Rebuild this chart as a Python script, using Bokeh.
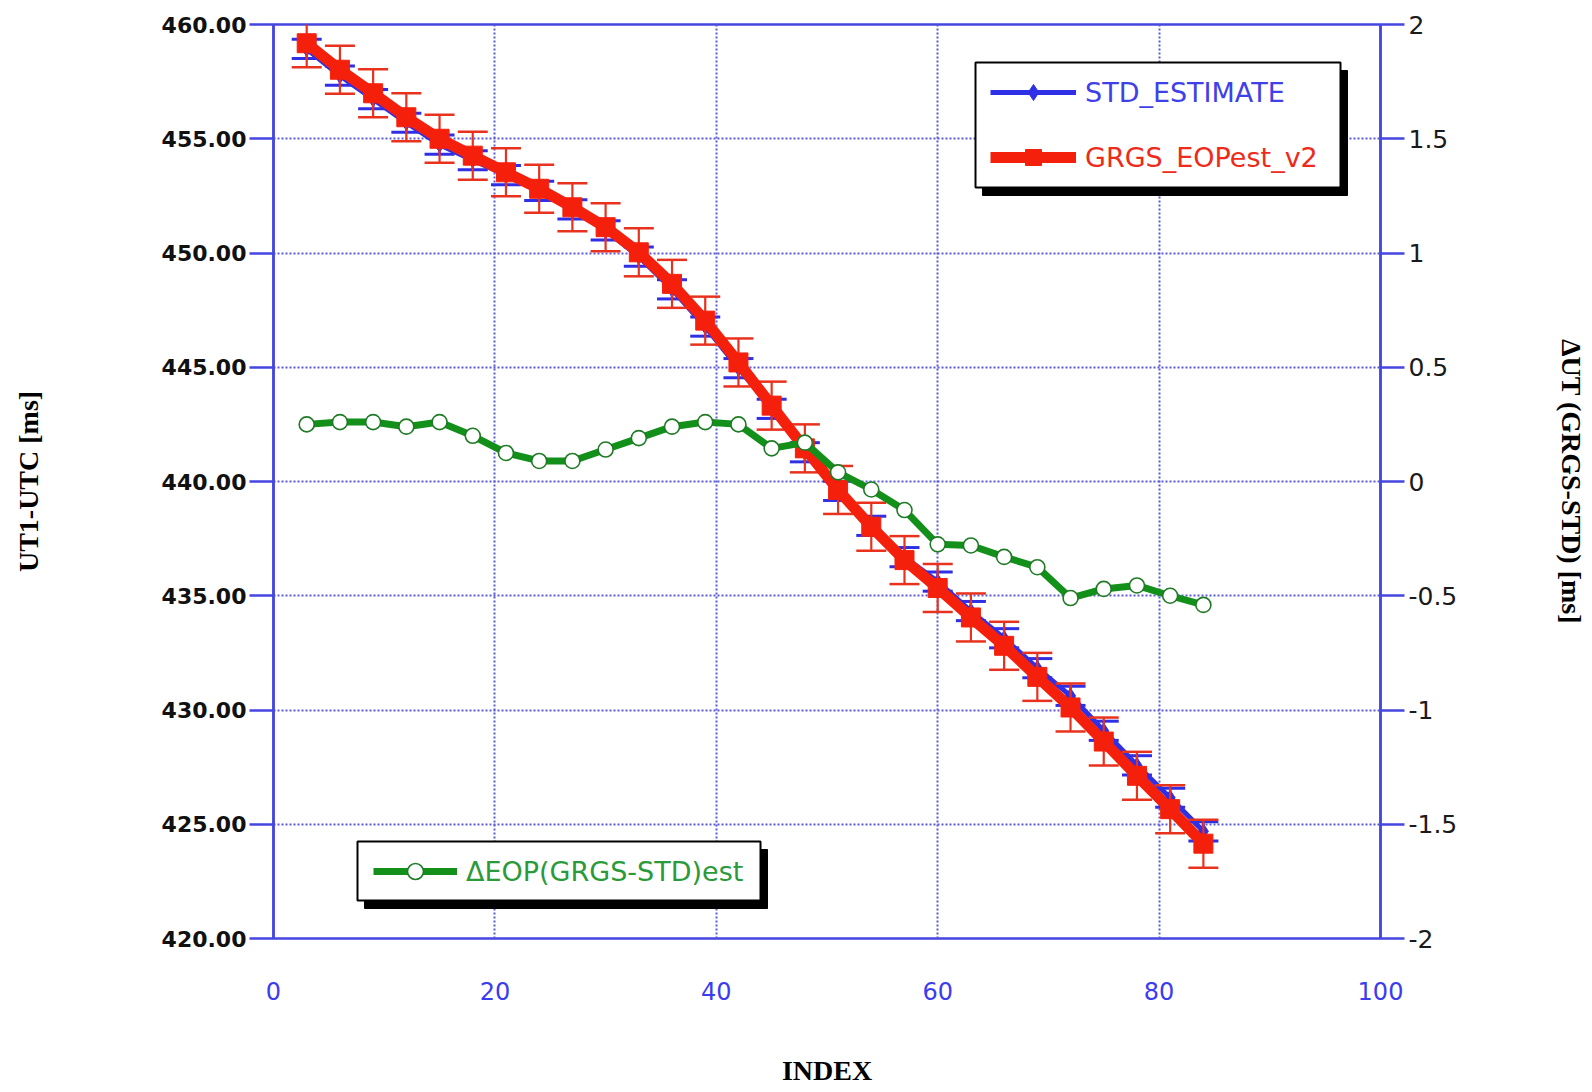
from bokeh.plotting import figure
from bokeh.models import (Range1d, LinearAxis, FixedTicker, Legend, LegendItem,
                          BoxAnnotation)
from bokeh.embed import file_html
from bokeh.resources import INLINE

# ---- data -------------------------------------------------------------
INDEX = [3, 6, 9, 12, 15, 18, 21, 24, 27, 30, 33, 36, 39, 42,
         45, 48, 51, 54, 57, 60, 63, 66, 69, 72, 75, 78, 81, 84]

# UT1-UTC [ms], GRGS solution
GRGS_EOPEST_V2 = [459.18, 458.02, 456.99, 455.94, 455.00, 454.26, 453.53,
                  452.81, 452.00, 451.13, 450.03, 448.65, 447.04, 445.21,
                  443.32, 441.45, 439.63, 438.02, 436.56, 435.34, 434.05,
                  432.81, 431.45, 430.11, 428.62, 427.12, 425.66, 424.15]

# UT1-UTC [ms], standard solution
STD_ESTIMATE = [458.93, 457.76, 456.73, 455.70, 454.74, 454.06, 453.41,
                452.72, 451.91, 450.99, 449.84, 448.41, 446.78, 444.96,
                443.18, 441.28, 439.59, 438.06, 436.69, 435.62, 434.33,
                433.14, 431.83, 430.62, 429.09, 427.58, 426.16, 424.69]

# GRGS - STD difference [ms] (right axis)
DELTA_EOP = [0.25, 0.26, 0.26, 0.24, 0.26, 0.20, 0.125, 0.09, 0.09, 0.14,
             0.19, 0.24, 0.26, 0.25, 0.145, 0.17, 0.04, -0.035, -0.125,
             -0.275, -0.28, -0.33, -0.375, -0.51, -0.47, -0.455, -0.50, -0.54]

# formal errors (half-length of the error bars) [ms]
GRGS_ERR = 1.05
STD_ERR = 0.42

X_TICKS = [0, 20, 40, 60, 80, 100]
LEFT_TICKS = [420, 425, 430, 435, 440, 445, 450, 455, 460]
LEFT_TICK_LABELS = ["420.00", "425.00", "430.00", "435.00", "440.00",
                    "445.00", "450.00", "455.00", "460.00"]
RIGHT_TICKS = [-2, -1.5, -1, -0.5, 0, 0.5, 1, 1.5, 2]
RIGHT_TICK_LABELS = ["-2", "-1.5", "-1", "-0.5", "0", "0.5", "1", "1.5", "2"]

# ---- style ------------------------------------------------------------
FRAME_BLUE = "#4646e0"
GRID_BLUE = "#5a5ad4"
RED = "#f5200c"
RED_BAR = "#e8321e"
BLUE = "#2f2fe6"
GREEN = "#12901a"
GREEN_EDGE = "#1f7a25"

X0, X1 = 0, 100
Y0, Y1 = 420, 460
FRAME_LEFT, FRAME_TOP = 273, 24
FRAME_W, FRAME_H = 1107, 914

p = figure(frame_width=FRAME_W, frame_height=FRAME_H,
           x_range=Range1d(X0, X1), y_range=Range1d(Y0, Y1),
           output_backend="svg", toolbar_location=None,
           min_border_left=FRAME_LEFT, min_border_right=212,
           min_border_top=FRAME_TOP, min_border_bottom=154,
           background_fill_color="white", border_fill_color="white")
p.extra_y_ranges = {"delta": Range1d(-2, 2)}

p.outline_line_color = FRAME_BLUE
p.outline_line_width = 2.5

# grids
p.xgrid.ticker = FixedTicker(ticks=X_TICKS)
p.ygrid.ticker = FixedTicker(ticks=LEFT_TICKS)
for g in (p.xgrid, p.ygrid):
    g.grid_line_color = GRID_BLUE
    g.grid_line_width = 2
    g.grid_line_dash = "2 2"

# bottom axis
xa = p.xaxis[0]
xa.ticker = FixedTicker(ticks=X_TICKS)
xa.axis_line_color = None
xa.major_tick_line_color = None
xa.minor_tick_line_color = None
xa.major_tick_out = 0
xa.major_tick_in = 0
xa.major_label_standoff = 43
xa.major_label_text_font = "DejaVu Sans"
xa.major_label_text_font_size = "24px"
xa.major_label_text_color = "#3b3bf0"
xa.axis_label = "INDEX"
xa.axis_label_text_font = "Liberation Serif"
xa.axis_label_text_font_style = "bold"
xa.axis_label_text_font_size = "28px"
xa.axis_label_text_color = "black"
xa.axis_label_standoff = 52

# left axis
ya = p.yaxis[0]
ya.ticker = FixedTicker(ticks=LEFT_TICKS)
ya.major_label_overrides = dict(zip(LEFT_TICKS, LEFT_TICK_LABELS))
ya.axis_line_color = FRAME_BLUE
ya.axis_line_width = 2.5
ya.major_tick_line_color = FRAME_BLUE
ya.major_tick_line_width = 2.5
ya.major_tick_out = 24
ya.major_tick_in = 0
ya.minor_tick_line_color = None
ya.major_label_standoff = 3
ya.major_label_text_font = "DejaVu Sans"
ya.major_label_text_font_style = "bold"
ya.major_label_text_font_size = "22px"
ya.major_label_text_color = "#111111"
ya.axis_label = "UT1-UTC [ms]"
ya.axis_label_text_font = "Liberation Serif"
ya.axis_label_text_font_style = "bold"
ya.axis_label_text_font_size = "28px"
ya.axis_label_text_color = "black"
ya.axis_label_standoff = 115

# right axis
ra = LinearAxis(y_range_name="delta", ticker=FixedTicker(ticks=RIGHT_TICKS))
ra.major_label_overrides = dict(zip(RIGHT_TICKS, RIGHT_TICK_LABELS))
ra.axis_line_color = FRAME_BLUE
ra.axis_line_width = 2.5
ra.major_tick_line_color = FRAME_BLUE
ra.major_tick_line_width = 2.5
ra.major_tick_out = 24
ra.major_tick_in = 0
ra.minor_tick_line_color = None
ra.major_label_standoff = 4
ra.major_label_text_font = "DejaVu Sans"
ra.major_label_text_font_size = "25px"
ra.major_label_text_color = "#1a1a1a"
ra.axis_label = "ΔUT (GRGS-STD) [ms]"
ra.axis_label_text_font = "Liberation Serif"
ra.axis_label_text_font_style = "bold"
ra.axis_label_text_font_size = "28px"
ra.axis_label_text_color = "black"
ra.axis_label_standoff = 96
p.add_layout(ra, "right")

# ---- error bars ---------------------------------------------------------
std_lo = [v - STD_ERR for v in STD_ESTIMATE]
std_hi = [v + STD_ERR for v in STD_ESTIMATE]
grgs_lo = [v - GRGS_ERR for v in GRGS_EOPEST_V2]
grgs_hi = [v + GRGS_ERR for v in GRGS_EOPEST_V2]

p.segment(INDEX, std_lo, INDEX, std_hi, line_color=BLUE, line_width=2.5)
p.scatter(INDEX + INDEX, std_lo + std_hi, marker="dash", size=30,
          line_color=BLUE, line_width=3)

# ---- STD_ESTIMATE -----------------------------------------------------
std_line = p.line(INDEX, STD_ESTIMATE, line_color=BLUE, line_width=5)
std_pts = p.scatter(INDEX, STD_ESTIMATE, marker="diamond", size=15,
                    fill_color=BLUE, line_color=BLUE)

p.segment(INDEX, grgs_lo, INDEX, grgs_hi, line_color=RED_BAR, line_width=2.2)
p.scatter(INDEX + INDEX, grgs_lo + grgs_hi, marker="dash", size=30,
          line_color=RED_BAR, line_width=2.5)

# ---- GRGS_EOPest_v2 ---------------------------------------------------
grgs_line = p.line(INDEX, GRGS_EOPEST_V2, line_color=RED, line_width=11)
grgs_pts = p.scatter(INDEX, GRGS_EOPEST_V2, marker="square", size=19,
                     fill_color=RED, line_color=RED)

# ---- ΔEOP on the right axis ---------------------------------------------
d_line = p.line(INDEX, DELTA_EOP, y_range_name="delta",
                line_color=GREEN, line_width=7)
d_pts = p.scatter(INDEX, DELTA_EOP, y_range_name="delta", marker="circle",
                  size=15, fill_color="white", line_color=GREEN_EDGE,
                  line_width=1.6)


# ---- legends: boxes with drop shadow, one entry per coloured label -------
def px_x(px):
    return X0 + (px - FRAME_LEFT) * (X1 - X0) / FRAME_W


def px_y(py):
    return Y1 - (py - FRAME_TOP) * (Y1 - Y0) / FRAME_H


SHADOW_DX, SHADOW_DY = 7, 8


def legend_box(left, top, right, bottom):
    p.add_layout(BoxAnnotation(
        left=px_x(left + SHADOW_DX), right=px_x(right + SHADOW_DX),
        top=px_y(top + SHADOW_DY), bottom=px_y(bottom + SHADOW_DY),
        fill_color="black", fill_alpha=1.0, line_color="black",
        line_alpha=1.0, line_width=1, level="annotation"))
    p.add_layout(BoxAnnotation(
        left=px_x(left), right=px_x(right), top=px_y(top), bottom=px_y(bottom),
        fill_color="white", fill_alpha=1.0, line_color="black",
        line_alpha=1.0, line_width=2, level="annotation"))


def legend_entry(label, renderers, color, glyph_left, center_y, glyph_w):
    leg = Legend(items=[LegendItem(label=label, renderers=renderers)],
                 location=(glyph_left - FRAME_LEFT,
                           FRAME_TOP + FRAME_H - (center_y + 20)),
                 padding=0, margin=0, spacing=0,
                 glyph_width=glyph_w, glyph_height=40,
                 label_height=40, label_standoff=9,
                 label_text_font="DejaVu Sans", label_text_font_size="27px",
                 label_text_color=color,
                 border_line_color=None, background_fill_alpha=0.0,
                 level="overlay")
    p.add_layout(leg)


legend_box(975, 62, 1340, 187)
legend_entry("STD_ESTIMATE", [std_line, std_pts], "#4040e8", 990, 92, 86)
legend_entry("GRGS_EOPest_v2", [grgs_line, grgs_pts], "#ee2a1a", 990, 157, 86)

legend_box(357, 841, 760, 900)
legend_entry("ΔEOP(GRGS-STD)est", [d_line, d_pts], "#2a9a3a", 373, 871, 84)

with open("out.html", "w") as f:
    f.write(file_html(p, INLINE))
